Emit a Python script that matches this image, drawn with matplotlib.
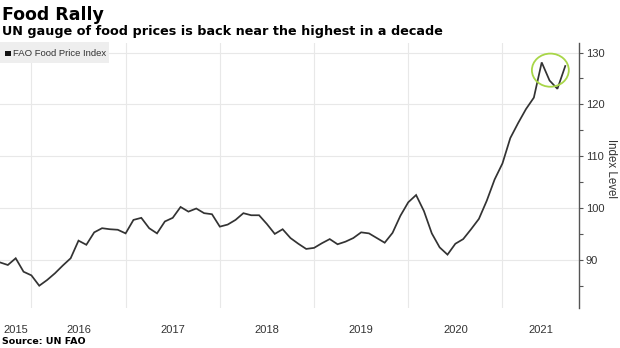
import matplotlib
matplotlib.use("Agg")
import matplotlib.pyplot as plt
from matplotlib.patches import Ellipse, Rectangle

# Monthly FAO Food Price Index, Aug 2015 .. Aug 2021
values = [89.5, 89.0, 90.3, 87.7, 87.0, 85.0, 86.1, 87.4, 88.9, 90.3,
          93.7, 92.9, 95.3, 96.1, 95.9, 95.8, 95.1, 97.7, 98.1, 96.1,
          95.1, 97.4, 98.1, 100.2, 99.3, 99.9, 99.0, 98.8, 96.4, 96.8,
          97.7, 99.0, 98.6, 98.6, 96.9, 95.0, 95.9, 94.2, 93.1, 92.1,
          92.3, 93.2, 94.0, 93.0, 93.5, 94.2, 95.3, 95.1, 94.2, 93.3,
          95.2, 98.5, 101.1, 102.5, 99.4, 95.1, 92.4, 91.0, 93.1, 94.0,
          95.9, 97.9, 101.4, 105.5, 108.6, 113.5, 116.4, 119.1, 121.3, 128.1,
          124.6, 123.0, 127.4]
year_labels = ["2015", "2016", "2017", "2018", "2019", "2020", "2021"]
year_boundaries = [4, 16, 28, 40, 52, 64]   # month index of year starts
y_ticks = [90, 100, 110, 120, 130]

W, H = 620, 348
fig = plt.figure(figsize=(W / 100, H / 100), dpi=100)
ax = fig.add_axes([0, 1 - 308 / H, 579 / W, (308 - 42.7) / H])

x = list(range(len(values)))
ax.plot(x, values, color="#333333", lw=1.25, solid_joinstyle="miter", zorder=3)

xmax = 73.75
ax.set_xlim(0, xmax)
ax.set_ylim(80.7, 131.9)

# grid
for b in year_boundaries:
    ax.axvline(b, color="#e8e8e8", lw=0.8, zorder=1)
for t in y_ticks:
    ax.axhline(t, color="#e8e8e8", lw=0.8, zorder=1)

# x labels centered in each visible year span
edges = [0] + year_boundaries + [xmax]
centers = [(edges[i] + edges[i + 1]) / 2 for i in range(len(edges) - 1)]
ax.set_xticks(centers)
ax.set_xticklabels(year_labels, fontsize=8, family="Liberation Sans", color="#333333")
ax.tick_params(axis="x", length=0, pad=12)

# right axis
for s in ["top", "left", "bottom"]:
    ax.spines[s].set_visible(False)
ax.spines["right"].set_color("#555555")
ax.spines["right"].set_linewidth(1.0)
ax.yaxis.tick_right()
ax.set_yticks(y_ticks)
ax.set_yticks([85, 95, 105, 115, 125], minor=True)
ax.set_yticklabels([str(t) for t in y_ticks], fontsize=8, family="Liberation Sans", color="#333333")
ax.tick_params(axis="y", which="both", direction="out", length=3, width=0.8,
               color="#555555", pad=2)
fig.text(611 / W, 1 - 168 / H, "Index Level", fontsize=8.3, family="Liberation Sans",
         color="#333333", rotation=270, ha="center", va="center")

# highlight circle
ax.add_patch(Ellipse((70.1, 126.6), 4.7, 6.4, fill=False, edgecolor="#a8d648",
                     lw=1.3, zorder=4, clip_on=False))

# legend box
fig.patches.append(Rectangle((0, 1 - 63 / H), 109 / W, 21 / H, transform=fig.transFigure,
                             facecolor="#eeeeee", edgecolor="none", zorder=5))
fig.patches.append(Rectangle((5 / W, 1 - 56 / H), 5.5 / W, 5.5 / H, transform=fig.transFigure,
                             facecolor="#111111", edgecolor="none", zorder=6))
fig.text(13 / W, 1 - 53 / H, "FAO Food Price Index", fontsize=6.8, family="Liberation Sans",
         color="#333333", va="center", ha="left", zorder=7)

# titles
fig.text(2 / W, 1 - 20 / H, "Food Rally", fontsize=12.5, fontweight="bold",
         family="DejaVu Sans", color="#000000", va="baseline", ha="left")
fig.text(2 / W, 1 - 35.5 / H, "UN gauge of food prices is back near the highest in a decade",
         fontsize=9.2, fontweight="bold", family="DejaVu Sans", color="#000000",
         va="baseline", ha="left")
fig.text(2 / W, 1 - 342 / H, "Source: UN FAO", fontsize=6.8, fontweight="bold",
         family="DejaVu Sans", color="#000000", va="center", ha="left")

fig.savefig("out.png", dpi=100)
